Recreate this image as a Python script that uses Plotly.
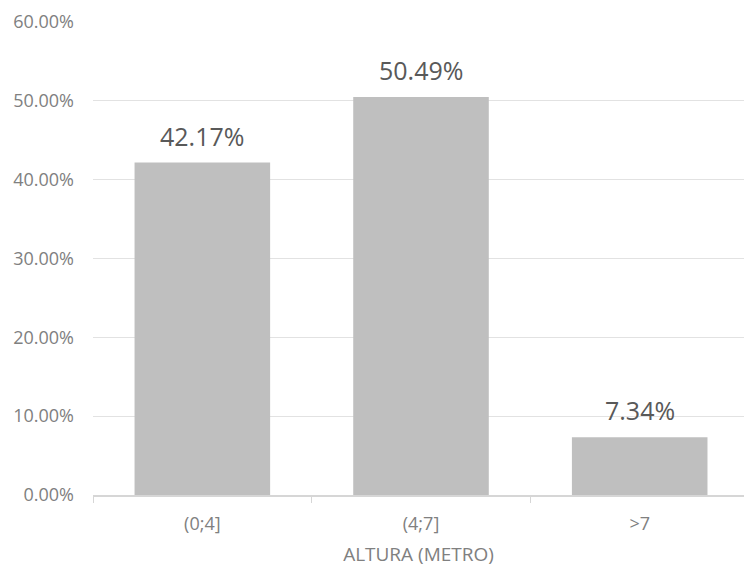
import plotly.graph_objects as go

categories = ["(0;4]", "(4;7]", ">7"]
shares = [0.4217, 0.5049, 0.0734]
y_ticks = [0, 0.1, 0.2, 0.3, 0.4, 0.5, 0.6]
x_title = "ALTURA (METRO)"

label_font = dict(size=25, color="#595959", family="Open Sans")

fig = go.Figure(
    go.Bar(
        x=categories,
        y=shares,
        marker=dict(color="#bfbfbf", line=dict(width=0)),
        width=0.62,
        hoverinfo="skip",
    )
)

# value labels sitting above each bar
for cat, val in zip(categories, shares):
    fig.add_annotation(
        x=cat,
        y=val,
        text=f"{val:.2%}",
        showarrow=False,
        yanchor="bottom",
        yshift=8,
        font=label_font,
    )

fig.update_layout(
    width=744,
    height=567,
    margin=dict(l=93, r=0, t=22, b=72),
    paper_bgcolor="white",
    plot_bgcolor="white",
    font=dict(family="Open Sans", color="#7f7f7f", size=18),
    showlegend=False,
)

fig.update_yaxes(
    range=[0, 0.6],
    tickvals=y_ticks,
    tickformat=".2%",
    gridcolor="#e2e2e2",
    gridwidth=1.2,
    zeroline=False,
    showline=False,
    ticks="",
    ticklabelstandoff=18,
    tickfont=dict(size=18, color="#808080"),
)

fig.update_xaxes(
    range=[-0.5, 2.477],
    automargin=False,
    showline=True,
    linecolor="#d6d6d6",
    linewidth=1.5,
    ticks="outside",
    tickson="boundaries",
    ticklen=6,
    tickcolor="#d6d6d6",
    ticklabelstandoff=12,
    tickfont=dict(size=18, color="#808080"),
    title=dict(text=x_title, font=dict(size=19, color="#808080"), standoff=25),
)

fig.write_html("out.html")
